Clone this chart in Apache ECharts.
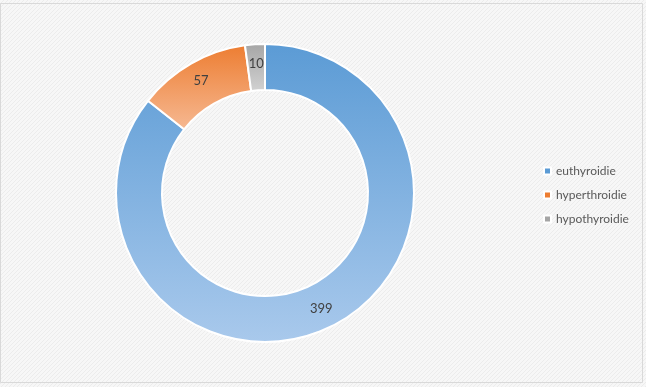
<!DOCTYPE html>
<html>
<head>
<meta charset="utf-8">
<script src="https://cdn.jsdelivr.net/npm/echarts@6/dist/echarts.min.js"></script>
<style>
  html, body { margin: 0; padding: 0; background: #fff; }
  #chart { width: 646px; height: 387px; }
</style>
</head>
<body>
<div id="chart"></div>
<script>
const categories = ["euthyroidie", "hyperthroidie", "hypothyroidie"];
const values = [399, 57, 10];
const colorsTop = ["#5b9bd5", "#ed7d31", "#a5a5a5"];
const colorsBottom = ["#a9c9ec", "#f6b993", "#d2d2d2"];

// hatch background like the original sheet
const pat = document.createElement("canvas");
pat.width = 4; pat.height = 4;
const pctx = pat.getContext("2d");
pctx.fillStyle = "#f7f7f7";
pctx.fillRect(0, 0, 4, 4);
pctx.strokeStyle = "#ececec";
pctx.lineWidth = 1;
pctx.beginPath();
pctx.moveTo(0, 4); pctx.lineTo(4, 0);
pctx.stroke();

let myChart = echarts.init(document.getElementById("chart"));
let data = [];
for (var i = 0; i < categories.length; i++) {
  data.push({
    name: categories[i],
    value: values[i],
    itemStyle: {
      // gradient per slice, darker on top
      color: {
        type: "linear", x: 0, y: 0, x2: 0, y2: 1,
        colorStops: [
          { offset: 0, color: colorsTop[i] },
          { offset: 1, color: colorsBottom[i] }
        ]
      }
    }
  });
}

let option = {
  backgroundColor: { image: pat, repeat: "repeat" },
  animation: false,
  color: colorsTop,
  graphic: [{
    type: "rect",
    shape: { x: 0.5, y: 3.5, width: 642, height: 379 },
    style: { fill: "none", stroke: "#d9d9d9", lineWidth: 1 },
    silent: true
  }],
  legend: {
    orient: "vertical",
    left: 538,
    top: 160,
    itemWidth: 7,
    itemHeight: 7,
    itemGap: 12,
    icon: "rect",
    textStyle: { color: "#595959", fontSize: 12, fontFamily: "Lato" },
    data: categories.map(function (c, i) { return { name: c, itemStyle: { color: colorsTop[i] } }; })
  },
  series: [{
    type: "pie",
    center: [265, 193],
    radius: [103, 149],
    startAngle: 90,
    clockwise: true,
    label: {
      show: true,
      position: "inside",
      formatter: "{c}",
      color: "#404040",
      fontSize: 13,
      fontFamily: "Lato"
    },
    labelLine: { show: false },
    itemStyle: { borderColor: "#fff", borderWidth: 2 },
    emphasis: { disabled: true },
    data: data
  }]
};
myChart.setOption(option);
</script>
</body>
</html>
